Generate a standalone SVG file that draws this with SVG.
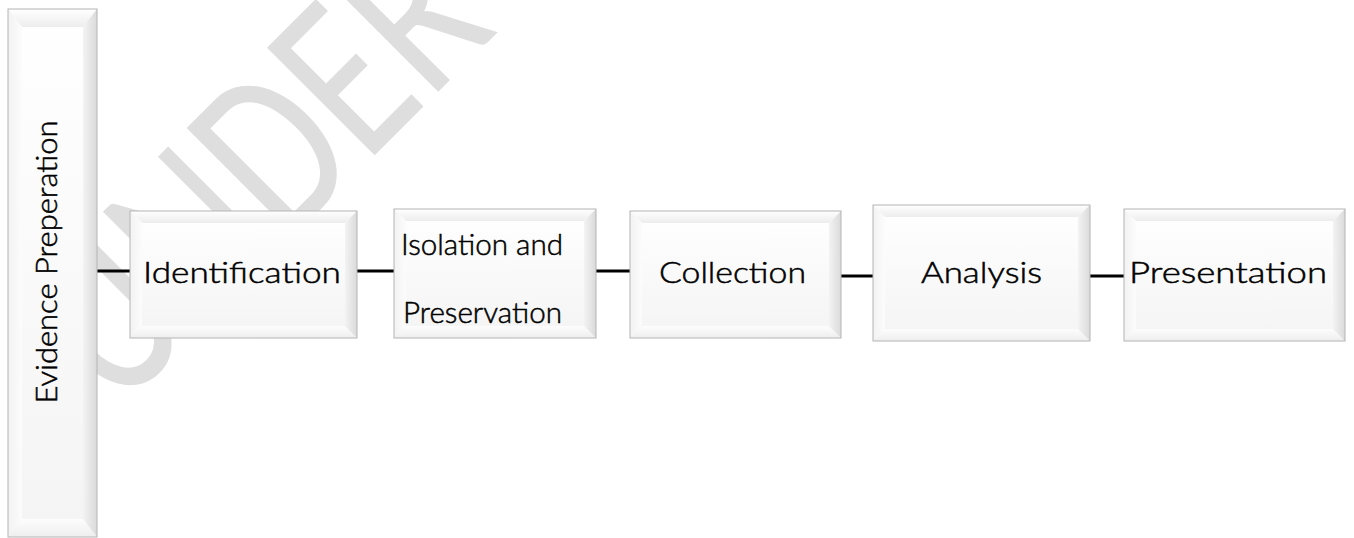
<svg xmlns="http://www.w3.org/2000/svg" width="1354" height="538" viewBox="0 0 1354 538">
<style>
.lbl{font-family:"Lato Light",Carlito,"Open Sans",sans-serif;font-size:29px;fill:#000;stroke:#000;stroke-width:0.5}
.face{fill:url(#face)}
.bt{fill:url(#bt)}
.bb{fill:url(#bb)}
.bl{fill:url(#bl)}
.br{fill:url(#br)}
.edge{fill:none;stroke:#b4b4b4;stroke-width:1}
.conn{stroke:#000;stroke-width:3;fill:none}
.wm{font-family:Carlito,Lato,"Liberation Sans",sans-serif;font-size:184px;fill:#dedede}
</style>
<defs>
<linearGradient id="face" x1="0" y1="0" x2="0" y2="1"><stop offset="0" stop-color="#ffffff"/><stop offset="1" stop-color="#f4f4f4"/></linearGradient>
<linearGradient id="bt" x1="0" y1="0" x2="0" y2="1"><stop offset="0" stop-color="#ffffff"/><stop offset="1" stop-color="#ededed"/></linearGradient>
<linearGradient id="bb" x1="0" y1="0" x2="0" y2="1"><stop offset="0" stop-color="#fdfdfd"/><stop offset="1" stop-color="#eeeeee"/></linearGradient>
<linearGradient id="bl" x1="0" y1="0" x2="1" y2="0"><stop offset="0" stop-color="#f2f2f2"/><stop offset="1" stop-color="#fcfcfc"/></linearGradient>
<linearGradient id="br" x1="0" y1="0" x2="1" y2="0"><stop offset="0" stop-color="#f3f3f3"/><stop offset="1" stop-color="#dadada"/></linearGradient>
</defs>
<rect width="1354" height="538" fill="#ffffff"/>
<g id="watermark">
<text class="wm" transform="translate(376,154) rotate(-45) scale(1,1.29)" x="-367 -247 -128 -15 75" y="0">UNDER</text>
</g>
<g id="connectors">
<line class="conn" x1="97" y1="271" x2="130" y2="271"/>
<line class="conn" x1="357" y1="271" x2="394" y2="271"/>
<line class="conn" x1="596" y1="271" x2="630" y2="271"/>
<line class="conn" x1="841" y1="276" x2="873" y2="276"/>
<line class="conn" x1="1090" y1="276" x2="1124" y2="276"/>
</g>
<g id="evidence-preperation">
<rect class="face" x="8" y="9" width="89" height="528"/>
<polygon class="bt" points="8,9 97,9 83,27 22,27"/>
<polygon class="bb" points="8,537 97,537 83,519 22,519"/>
<polygon class="bl" points="8,9 22,27 22,519 8,537"/>
<polygon class="br" points="97,9 83,27 83,519 97,537"/>
<rect class="edge" x="8" y="9" width="89" height="528"/>
<text class="lbl" transform="translate(57,262) rotate(-90)" text-anchor="middle" textLength="283" lengthAdjust="spacingAndGlyphs">Evidence Preperation</text>
</g>
<g id="identification">
<rect class="face" x="130" y="211" width="227" height="127"/>
<polygon class="bt" points="130,211 357,211 345,223 142,223"/>
<polygon class="bb" points="130,338 357,338 345,326 142,326"/>
<polygon class="bl" points="130,211 142,223 142,326 130,338"/>
<polygon class="br" points="357,211 345,223 345,326 357,338"/>
<rect class="edge" x="130" y="211" width="227" height="127"/>
<text class="lbl" x="143" y="283" textLength="198" lengthAdjust="spacingAndGlyphs">Identification</text>
</g>
<g id="isolation-preservation">
<rect class="face" x="394" y="209" width="202" height="129"/>
<polygon class="bt" points="394,209 596,209 584,221 406,221"/>
<polygon class="bb" points="394,338 596,338 584,326 406,326"/>
<polygon class="bl" points="394,209 406,221 406,326 394,338"/>
<polygon class="br" points="596,209 584,221 584,326 596,338"/>
<rect class="edge" x="394" y="209" width="202" height="129"/>
<text class="lbl" x="401" y="255" textLength="162" lengthAdjust="spacingAndGlyphs">Isolation and</text>
<text class="lbl" x="403" y="323" textLength="159" lengthAdjust="spacingAndGlyphs">Preservation</text>
</g>
<g id="collection">
<rect class="face" x="630" y="211" width="211" height="127"/>
<polygon class="bt" points="630,211 841,211 829,223 642,223"/>
<polygon class="bb" points="630,338 841,338 829,326 642,326"/>
<polygon class="bl" points="630,211 642,223 642,326 630,338"/>
<polygon class="br" points="841,211 829,223 829,326 841,338"/>
<rect class="edge" x="630" y="211" width="211" height="127"/>
<text class="lbl" x="659" y="283" textLength="147" lengthAdjust="spacingAndGlyphs">Collection</text>
</g>
<g id="analysis">
<rect class="face" x="873" y="205" width="217" height="136"/>
<polygon class="bt" points="873,205 1090,205 1078,217 885,217"/>
<polygon class="bb" points="873,341 1090,341 1078,329 885,329"/>
<polygon class="bl" points="873,205 885,217 885,329 873,341"/>
<polygon class="br" points="1090,205 1078,217 1078,329 1090,341"/>
<rect class="edge" x="873" y="205" width="217" height="136"/>
<text class="lbl" x="921" y="283" textLength="121" lengthAdjust="spacingAndGlyphs">Analysis</text>
</g>
<g id="presentation">
<rect class="face" x="1124" y="209" width="221" height="132"/>
<polygon class="bt" points="1124,209 1345,209 1333,221 1136,221"/>
<polygon class="bb" points="1124,341 1345,341 1333,329 1136,329"/>
<polygon class="bl" points="1124,209 1136,221 1136,329 1124,341"/>
<polygon class="br" points="1345,209 1333,221 1333,329 1345,341"/>
<rect class="edge" x="1124" y="209" width="221" height="132"/>
<text class="lbl" x="1129" y="283" textLength="198" lengthAdjust="spacingAndGlyphs">Presentation</text>
</g>
</svg>
